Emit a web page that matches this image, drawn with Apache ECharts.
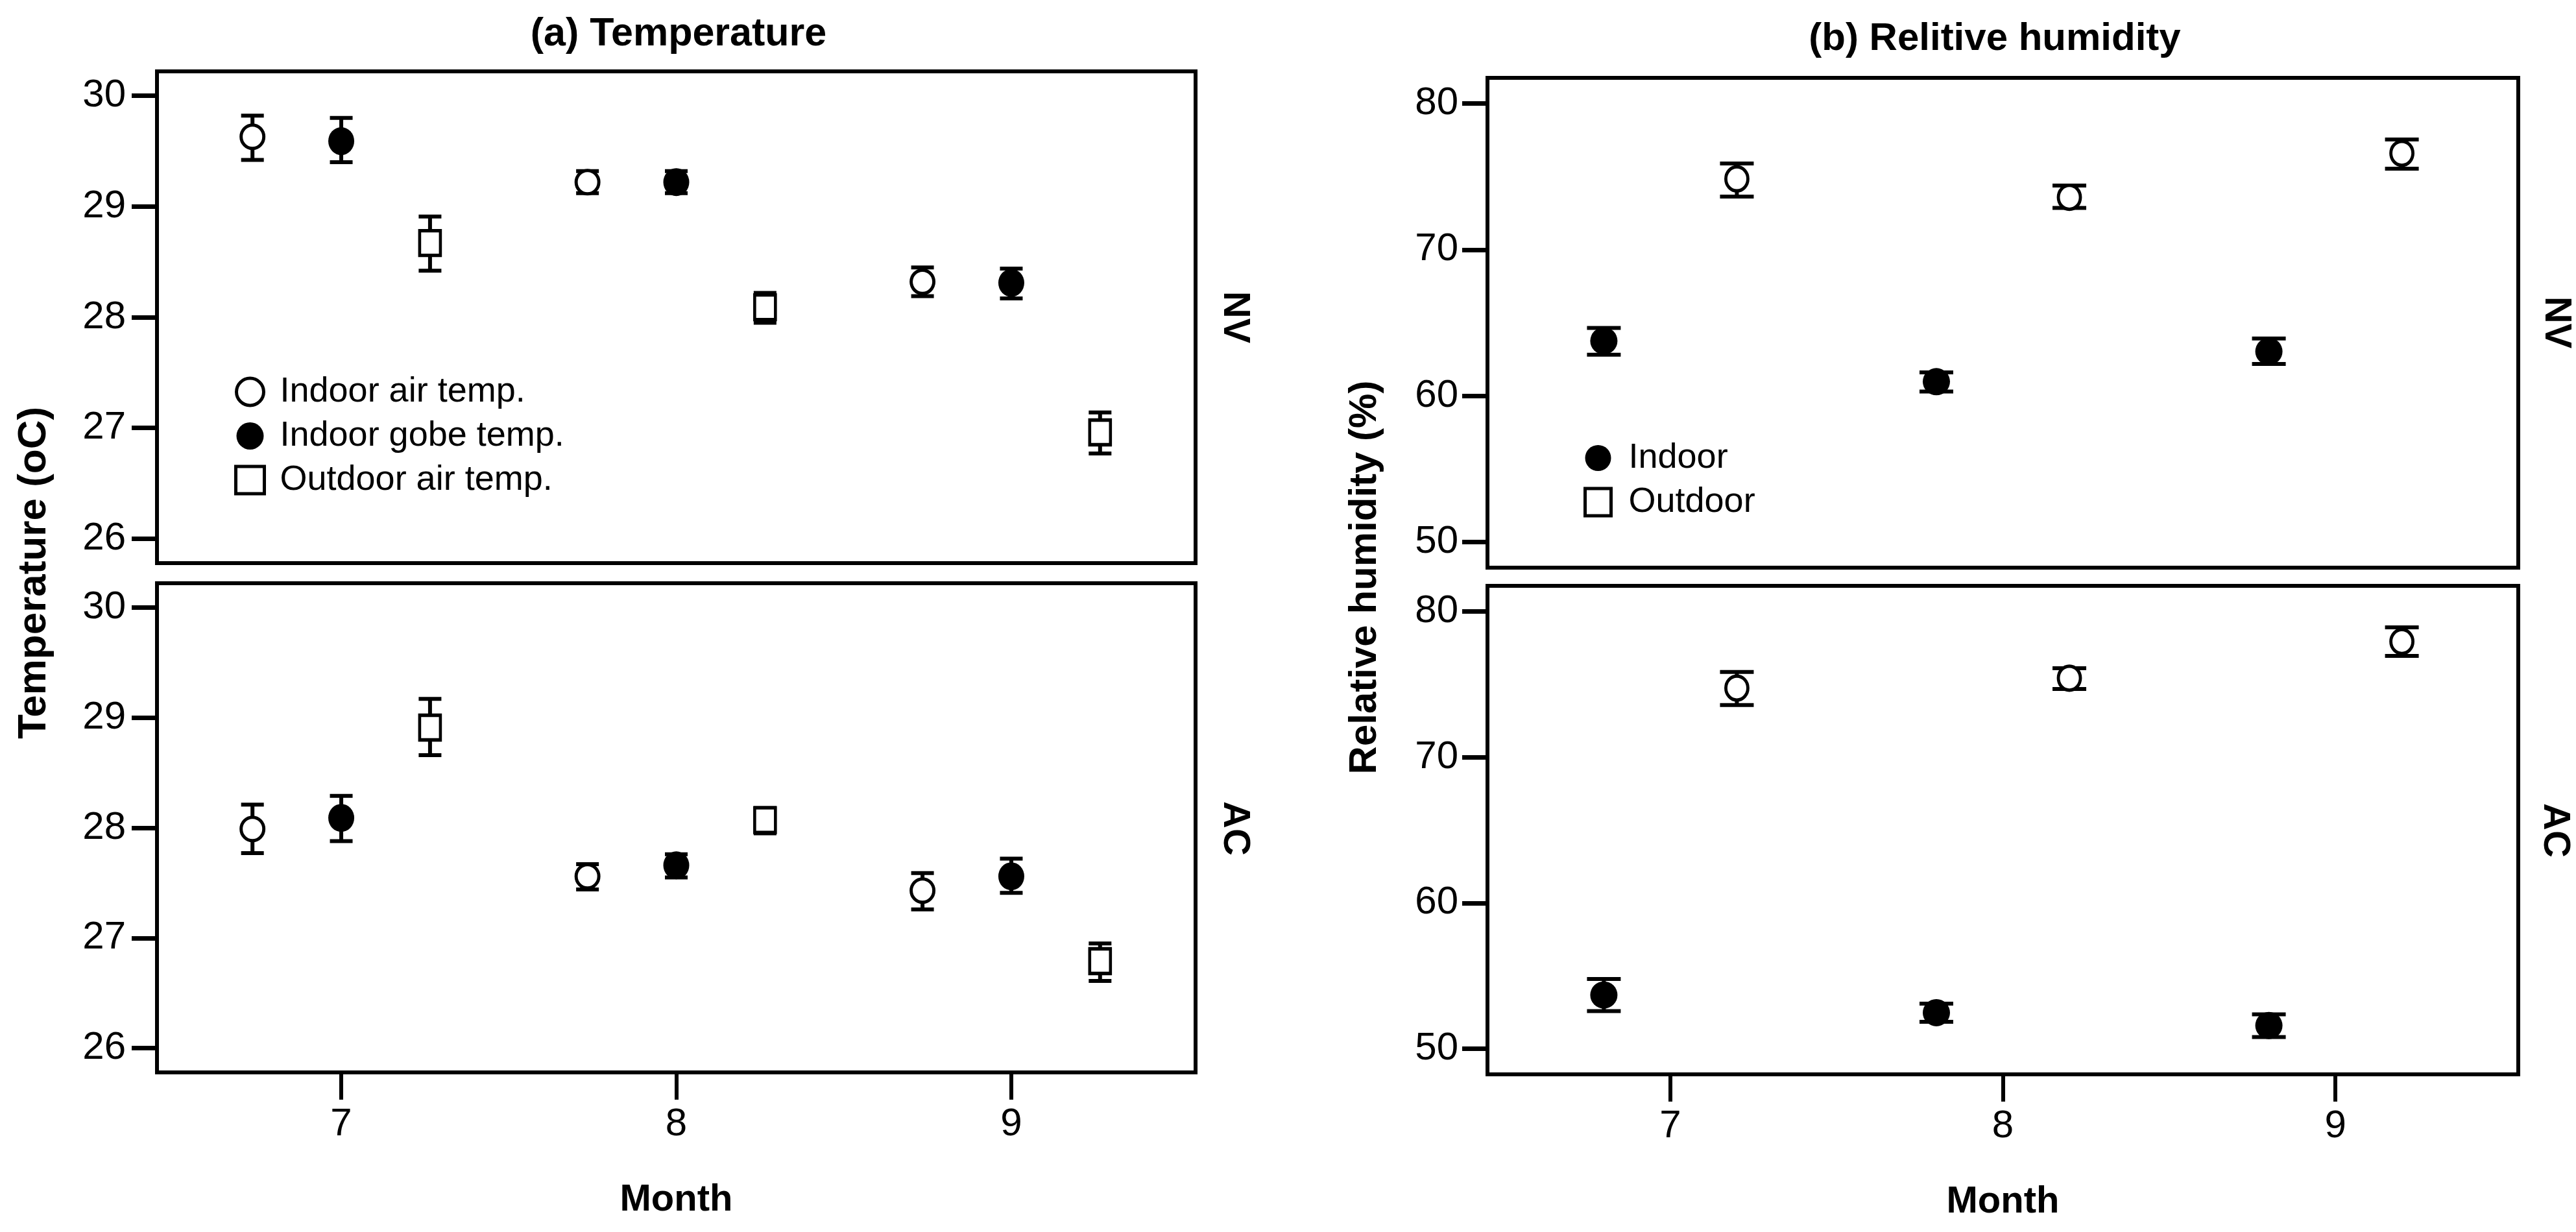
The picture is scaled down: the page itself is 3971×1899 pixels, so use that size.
<!DOCTYPE html>
<html>
<head>
<meta charset="utf-8">
<script src="https://cdn.jsdelivr.net/npm/echarts@6/dist/echarts.min.js"></script>
<style>
html, body { margin: 0; padding: 0; background: #fff; }
#chart { width: 3971px; height: 1899px; }
</style>
</head>
<body>
<div id="chart"></div>
<script>
// months on the x axis, tick values
var months = [7, 8, 9];
var tempTicks = [26, 27, 28, 29, 30];
var rhTicks = [50, 60, 70, 80];

// (a) temperature, NV
var nvAirMean = [29.63, 29.22, 28.32];
var nvAirLow = [29.42, 29.12, 28.19];
var nvAirHigh = [29.82, 29.32, 28.45];
var nvGlobeMean = [29.59, 29.22, 28.31];
var nvGlobeLow = [29.40, 29.12, 28.17];
var nvGlobeHigh = [29.80, 29.32, 28.44];
var nvOutMean = [28.67, 28.09, 26.96];
var nvOutLow = [28.42, 27.95, 26.77];
var nvOutHigh = [28.91, 28.22, 27.14];

// (a) temperature, AC
var acAirMean = [27.99, 27.56, 27.43];
var acAirLow = [27.77, 27.44, 27.26];
var acAirHigh = [28.21, 27.67, 27.59];
var acGlobeMean = [28.09, 27.66, 27.56];
var acGlobeLow = [27.88, 27.55, 27.41];
var acGlobeHigh = [28.29, 27.76, 27.72];
var acOutMean = [28.91, 28.07, 26.79];
var acOutLow = [28.66, 27.95, 26.61];
var acOutHigh = [29.17, 28.18, 26.95];

// (b) relative humidity, NV
var nvRhInMean = [63.76, 60.97, 63.04];
var nvRhInLow = [62.82, 60.30, 62.18];
var nvRhInHigh = [64.65, 61.61, 63.92];
var nvRhOutMean = [74.84, 73.58, 76.59];
var nvRhOutLow = [73.63, 72.85, 75.54];
var nvRhOutHigh = [75.89, 74.38, 77.53];

// (b) relative humidity, AC
var acRhInMean = [53.69, 52.48, 51.60];
var acRhInLow = [52.59, 51.85, 50.81];
var acRhInHigh = [54.79, 53.10, 52.36];
var acRhOutMean = [74.74, 75.42, 77.93];
var acRhOutLow = [73.58, 74.68, 76.94];
var acRhOutHigh = [75.84, 76.10, 78.90];

var FONT = 'Arial, "Liberation Sans", sans-serif';

// marker styles
var openStyle = {color: '#fff', borderColor: '#000', borderWidth: 5, opacity: 1};
var fullStyle = {color: '#000', borderColor: '#000', borderWidth: 0, opacity: 1};
var openCircle = {symbol: 'circle', symbolSize: [35, 36], itemStyle: openStyle};
var fullCircle = {symbol: 'circle', symbolSize: [40, 43], itemStyle: fullStyle};
var openSquare = {symbol: 'rect', symbolSize: [32, 38], itemStyle: openStyle};
var rhOpenCircle = {symbol: 'circle', symbolSize: [34, 37], itemStyle: openStyle};
var rhFullCircle = {symbol: 'circle', symbolSize: [42, 42], itemStyle: fullStyle};

function errBar(halfCap) {
	return function (params, api) {
		var x = api.value(0);
		var top = api.coord([x, api.value(2)]);
		var bot = api.coord([x, api.value(1)]);
		var st = {stroke: '#000', lineWidth: 6, fill: null};
		return {
			type: 'group',
			children: [
				{type: 'line', shape: {x1: top[0], y1: top[1], x2: bot[0], y2: bot[1]}, style: st},
				{type: 'line', shape: {x1: top[0] - halfCap, y1: top[1], x2: top[0] + halfCap, y2: top[1]}, style: st},
				{type: 'line', shape: {x1: bot[0] - halfCap, y1: bot[1], x2: bot[0] + halfCap, y2: bot[1]}, style: st}
			]
		};
	};
}

var series = [];
// one group = error bars (custom) + markers (scatter)
function addGroup(name, idx, mean, low, high, dodge, marker, halfCap) {
	var pts = [], bars = [];
	for (var i = 0; i < months.length; i++) {
		pts.push([months[i] + dodge, mean[i]]);
		bars.push([months[i] + dodge, low[i], high[i]]);
	}
	series.push({
		name: name, type: 'custom', xAxisIndex: idx, yAxisIndex: idx,
		renderItem: errBar(halfCap), data: bars, encode: {x: 0, y: [1, 2]}, z: 2, silent: true
	});
	series.push({
		name: name, type: 'scatter', xAxisIndex: idx, yAxisIndex: idx,
		symbol: marker.symbol, symbolSize: marker.symbolSize, itemStyle: marker.itemStyle,
		emphasis: {disabled: true}, data: pts, z: 3
	});
}

var T_AIR = 'Indoor air temp.', T_GLOBE = 'Indoor gobe temp.', T_OUT = 'Outdoor air temp.';
var H_IN = 'Indoor', H_OUT = 'Outdoor';
var tDodge = 0.265, hDodge = 0.2;

addGroup(T_AIR, 0, nvAirMean, nvAirLow, nvAirHigh, -tDodge, openCircle, 17.5);
addGroup(T_GLOBE, 0, nvGlobeMean, nvGlobeLow, nvGlobeHigh, 0, fullCircle, 17.5);
addGroup(T_OUT, 0, nvOutMean, nvOutLow, nvOutHigh, tDodge, openSquare, 17.5);
addGroup(T_AIR, 1, acAirMean, acAirLow, acAirHigh, -tDodge, openCircle, 17.5);
addGroup(T_GLOBE, 1, acGlobeMean, acGlobeLow, acGlobeHigh, 0, fullCircle, 17.5);
addGroup(T_OUT, 1, acOutMean, acOutLow, acOutHigh, tDodge, openSquare, 17.5);

addGroup(H_IN, 2, nvRhInMean, nvRhInLow, nvRhInHigh, -hDodge, rhFullCircle, 26);
addGroup(H_OUT, 2, nvRhOutMean, nvRhOutLow, nvRhOutHigh, hDodge, rhOpenCircle, 26);
addGroup(H_IN, 3, acRhInMean, acRhInLow, acRhInHigh, -hDodge, rhFullCircle, 26);
addGroup(H_OUT, 3, acRhOutMean, acRhOutLow, acRhOutHigh, hDodge, rhOpenCircle, 26);

function xAx(idx, bottom) {
	return {
		type: 'value', gridIndex: idx, min: 6.45, max: 9.55,
		axisLine: {show: false}, splitLine: {show: false},
		axisTick: {show: bottom, customValues: months, length: 42, inside: false, lineStyle: {color: '#000', width: 6}},
		axisLabel: {show: bottom, customValues: months, margin: 50, fontSize: 60, color: '#000', fontFamily: FONT},
		name: bottom ? 'Month' : '', nameLocation: 'middle', nameGap: 168,
		nameTextStyle: {fontSize: 58, fontWeight: 'bold', color: '#000', fontFamily: FONT}
	};
}
function yAx(idx, lo, hi, ticks, margin) {
	return {
		type: 'value', gridIndex: idx, min: lo, max: hi,
		axisLine: {show: false}, splitLine: {show: false},
		axisTick: {show: true, customValues: ticks, length: 39, inside: false, lineStyle: {color: '#000', width: 7}},
		axisLabel: {customValues: ticks, margin: margin, fontSize: 60, color: '#000', fontFamily: FONT}
	};
}

var gridStyle = {show: true, borderColor: '#000', borderWidth: 6, backgroundColor: 'transparent'};

function txt(text, x, y, size, rot) {
	return {
		type: 'text', x: x, y: y, rotation: rot || 0, silent: true,
		style: {text: text, fill: '#000', fontSize: size, fontWeight: 'bold', fontFamily: FONT, align: 'center', verticalAlign: 'middle'}
	};
}

var chart = echarts.init(document.getElementById('chart'));
var option = {
	animation: false,
	backgroundColor: '#fff',
	grid: [
		Object.assign({left: 242, top: 110, width: 1601, height: 758}, gridStyle),
		Object.assign({left: 242, top: 899, width: 1601, height: 754}, gridStyle),
		Object.assign({left: 2293, top: 120, width: 1589, height: 755}, gridStyle),
		Object.assign({left: 2293, top: 903, width: 1589, height: 753}, gridStyle)
	],
	xAxis: [xAx(0, false), xAx(1, true), xAx(2, false), xAx(3, true)],
	yAxis: [
		yAx(0, 25.78, 30.22, tempTicks, 48),
		yAx(1, 25.78, 30.22, tempTicks, 48),
		yAx(2, 48.25, 81.75, rhTicks, 45),
		yAx(3, 48.25, 81.75, rhTicks, 45)
	],
	legend: [
		{
			orient: 'vertical', left: 356, top: 572, itemWidth: 44, itemHeight: 42, itemGap: 14,
			selectedMode: false,
			textStyle: {fontSize: 54, color: '#000', fontFamily: FONT, padding: [0, 0, 0, 19]},
			data: [
				{name: T_AIR, icon: 'circle', itemStyle: openStyle},
				{name: T_GLOBE, icon: 'circle', itemStyle: fullStyle},
				{name: T_OUT, icon: 'rect', itemStyle: openStyle}
			]
		},
		{
			orient: 'vertical', left: 2436, top: 674, itemWidth: 40, itemHeight: 42, itemGap: 14,
			selectedMode: false,
			textStyle: {fontSize: 54, color: '#000', fontFamily: FONT, padding: [0, 0, 0, 22]},
			data: [
				{name: H_IN, icon: 'circle', itemStyle: fullStyle},
				{name: H_OUT, icon: 'rect', itemStyle: openStyle}
			]
		}
	],
	graphic: [
		txt('(a) Temperature', 1046, 53, 61),
		txt('(b) Relitive humidity', 3075, 60, 60),
		txt('Temperature (oC)', 53, 883, 62, Math.PI / 2),
		txt('Relative humidity (%)', 2104, 890, 60, Math.PI / 2),
		txt('NV', 1903, 489, 58, -Math.PI / 2),
		txt('AC', 1903, 1277, 58, -Math.PI / 2),
		txt('NV', 3940, 497, 58, -Math.PI / 2),
		txt('AC', 3938, 1280, 58, -Math.PI / 2)
	],
	series: series
};
chart.setOption(option);
window.addEventListener('resize', chart.resize);
</script>
</body>
</html>
